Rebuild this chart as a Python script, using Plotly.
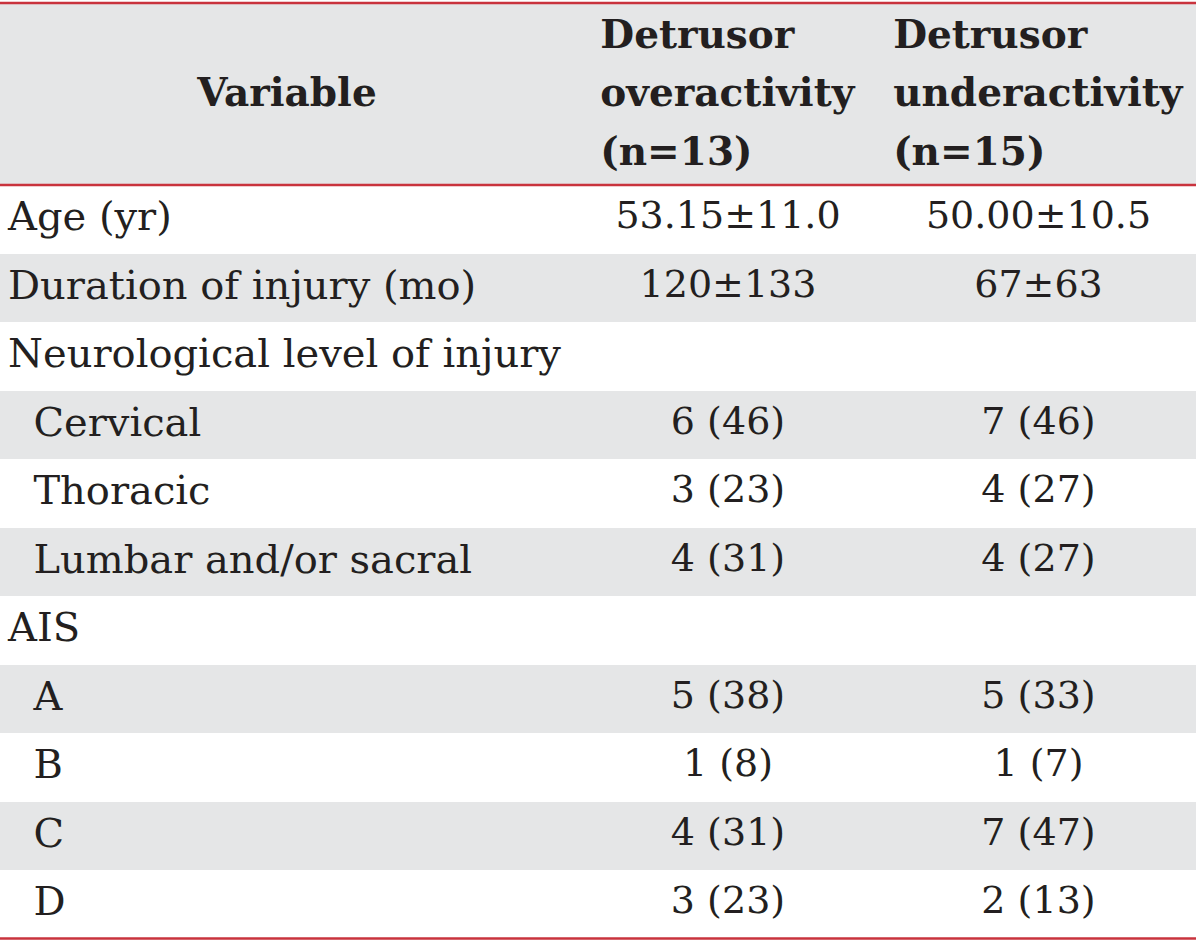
import plotly.graph_objects as go

header_lines = [["Variable"],
                ["Detrusor", "overactivity", "(n=13)"],
                ["Detrusor", "underactivity", "(n=15)"]]

variables = ["Age (yr)", "Duration of injury (mo)", "Neurological level of injury",
             "Cervical", "Thoracic", "Lumbar and/or sacral", "AIS",
             "A", "B", "C", "D"]
indent = [0, 0, 0, 1, 1, 1, 0, 1, 1, 1, 1]
overactivity = ["53.15±11.0", "120±133", "", "6 (46)", "3 (23)", "4 (31)", "",
                "5 (38)", "1 (8)", "4 (31)", "3 (23)"]
underactivity = ["50.00±10.5", "67±63", "", "7 (46)", "4 (27)", "4 (27)", "",
                 "5 (33)", "1 (7)", "7 (47)", "2 (13)"]

GREY = "#e5e6e7"
RED = "#c9333d"
TXT = "#231f20"
FONT = "DejaVu Serif"
HEAD_GLYPH = 39
VAR_GLYPH = 40
NUM_GLYPH = 38


def head_html(lines):
    if len(lines) == 1:
        lines = ["\u00a0"] + lines
    return "<br>".join(f"<span style='font-size:{HEAD_GLYPH}px'><b>{t}</b></span>" for t in lines)


def body_html(t, size, ind=0):
    if not t:
        return ""
    return f"<span style='font-size:{size}px'>{chr(160) * 2 * ind}{t}</span><br>"


headers = [head_html(h) for h in header_lines]
var_text = [body_html(v, VAR_GLYPH, i) for v, i in zip(variables, indent)]
over_text = [body_html(v, NUM_GLYPH) for v in overactivity]
under_text = [body_html(v, NUM_GLYPH) for v in underactivity]
row_fill = [GREY if i % 2 == 1 else "white" for i in range(len(variables))]

W, H = 1200, 944
x0, x1 = 0, 1196
y_top, y_head = 3, 185
row_h = 68.5

fig = go.Figure(go.Table(
    columnwidth=[575, 306, 315],
    header=dict(values=headers, align="center",
                fill_color=GREY, line=dict(width=0),
                font=dict(family=FONT, size=45, color=TXT),
                height=y_head - y_top),
    cells=dict(values=[var_text, over_text, under_text],
               align=["left", "center", "center"],
               fill_color=[row_fill] * 3, line=dict(width=0),
               font=dict(family=FONT, size=54, color=TXT),
               height=row_h),
    domain=dict(x=[x0 / W, x1 / W], y=[0, 1 - y_top / H]),
))

y_bot = y_head + row_h * len(variables)
for yy in (y_top, y_head, y_bot):
    fig.add_shape(type="line", xref="paper", yref="paper",
                  x0=x0 / W, x1=x1 / W, y0=1 - yy / H, y1=1 - yy / H,
                  line=dict(color=RED, width=2.5))

fig.update_layout(width=W, height=H, margin=dict(l=0, r=0, t=0, b=0),
                  paper_bgcolor="white", plot_bgcolor="white")
fig.write_html("out.html", config={"displayModeBar": False},
               post_script="document.body.style.margin='0';")
